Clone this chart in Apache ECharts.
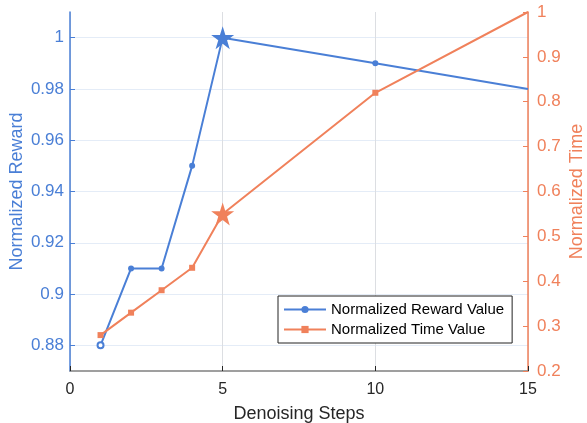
<!DOCTYPE html>
<html>
<head>
<meta charset="utf-8">
<script src="https://cdn.jsdelivr.net/npm/echarts@6/dist/echarts.min.js"></script>
<style>
    html, body { margin: 0; padding: 0; background: #fff; }
    #chart { width: 587px; height: 423px; }
</style>
</head>
<body>
<div id="chart"></div>
<script>
var steps = [1, 2, 3, 4, 5, 10, 15];
var rewardValues = [0.88, 0.91, 0.91, 0.95, 1.0, 0.99, 0.98];
var timeValues = [0.28, 0.33, 0.38, 0.43, 0.55, 0.82, 1.0];
var xTicks = [0, 5, 10, 15];
var rewardTicks = [0.88, 0.9, 0.92, 0.94, 0.96, 0.98, 1];
var timeTicks = [0.2, 0.3, 0.4, 0.5, 0.6, 0.7, 0.8, 0.9, 1];
var bestStep = 5;

var blue = '#4a7fd6';
var orange = '#f0815b';
var star = 'path://M50,0 L61.8,36.2 L100,36.2 L69.1,58.6 L80.9,95.1 L50,72.6 L19.1,95.1 L30.9,58.6 L0,36.2 L38.2,36.2 Z';

function buildData(values, firstSymbol) {
    var out = [];
    for (var i = 0; i < steps.length; i++) {
        var item = { value: [steps[i], values[i]] };
        if (steps[i] == bestStep) {
            item.symbol = star;
            item.symbolSize = 23;
        } else if (i == steps.length - 1) {
            item.symbol = 'none';
        } else if (i == 0 && firstSymbol) {
            item.symbol = firstSymbol;
        }
        out.push(item);
    }
    return out;
}

function fmt(v) {
    return String(+v.toFixed(2));
}

var myChart = echarts.init(document.getElementById('chart'));
var option = {
    animation: false,
    grid: { left: 70, right: 59, top: 12, bottom: 52, outerBoundsMode: 'none', containLabel: false },
    legend: {
        orient: 'vertical',
        left: 278,
        top: 296,
        padding: [6, 8, 6, 5],
        itemGap: 5,
        itemWidth: 42,
        itemHeight: 9,
        backgroundColor: '#fff',
        borderColor: '#222',
        borderWidth: 1,
        borderRadius: 0,
        textStyle: { fontFamily: 'Liberation Sans', fontSize: 15, color: '#000' },
        data: ['Normalized Reward Value', 'Normalized Time Value']
    },
    xAxis: {
        type: 'value',
        min: 0,
        max: 15,
        interval: 5,
        name: 'Denoising Steps',
        nameLocation: 'middle',
        nameGap: 34,
        nameMoveOverlap: false,
        nameTextStyle: { fontFamily: 'Liberation Sans', fontSize: 18, color: '#262626' },
        axisLine: { lineStyle: { color: '#808080', width: 1.5 } },
        axisTick: { inside: true, length: 5, lineStyle: { color: '#262626' } },
        axisLabel: {
            margin: 11, fontFamily: 'Liberation Sans', fontSize: 16, color: '#262626',
            formatter: function (v) { return xTicks.indexOf(v) >= 0 ? fmt(v) : ''; }
        },
        splitLine: { show: true, lineStyle: { color: '#dcdee2', width: 1 } }
    },
    yAxis: [
        {
            type: 'value',
            position: 'left',
            min: 0.87,
            max: 1.01,
            splitNumber: 7,
            name: 'Normalized Reward',
            nameLocation: 'middle',
            nameGap: 44,
            nameMoveOverlap: false,
            nameRotate: 90,
            nameTextStyle: { fontFamily: 'Liberation Sans', fontSize: 18, color: blue },
            axisLine: { show: true, lineStyle: { color: blue, width: 1.5 } },
            axisTick: { show: true, inside: true, length: 5, lineStyle: { color: blue } },
            axisLabel: {
                margin: 6, fontFamily: 'Liberation Sans', fontSize: 17, color: blue,
                showMinLabel: false, showMaxLabel: false,
                formatter: function (v) { return rewardTicks.indexOf(+v.toFixed(2)) >= 0 ? fmt(v) : ''; }
            },
            splitLine: { show: true, showMinLine: false, showMaxLine: false, lineStyle: { color: '#e4ecf7', width: 1 } }
        },
        {
            type: 'value',
            position: 'right',
            min: 0.2,
            max: 1,
            interval: 0.1,
            name: 'Normalized Time',
            nameLocation: 'middle',
            nameGap: 40,
            nameMoveOverlap: false,
            nameRotate: 90,
            nameTextStyle: { fontFamily: 'Liberation Sans', fontSize: 18, color: orange },
            axisLine: { show: true, lineStyle: { color: orange, width: 1.5 } },
            axisTick: { show: true, inside: true, length: 5, lineStyle: { color: orange } },
            axisLabel: {
                margin: 9, fontFamily: 'Liberation Sans', fontSize: 17, color: orange,
                formatter: function (v) { return timeTicks.indexOf(+v.toFixed(2)) >= 0 ? fmt(v) : ''; }
            },
            splitLine: { show: false }
        }
    ],
    series: [
        {
            name: 'Normalized Reward Value',
            type: 'line',
            yAxisIndex: 0,
            symbol: 'circle',
            symbolSize: 6,
            itemStyle: { color: blue },
            lineStyle: { color: blue, width: 2 },
            data: buildData(rewardValues, 'emptyCircle')
        },
        {
            name: 'Normalized Time Value',
            type: 'line',
            yAxisIndex: 1,
            symbol: 'rect',
            symbolSize: 6,
            itemStyle: { color: orange },
            lineStyle: { color: orange, width: 2 },
            data: buildData(timeValues, null)
        }
    ]
};
myChart.setOption(option);
</script>
</body>
</html>
